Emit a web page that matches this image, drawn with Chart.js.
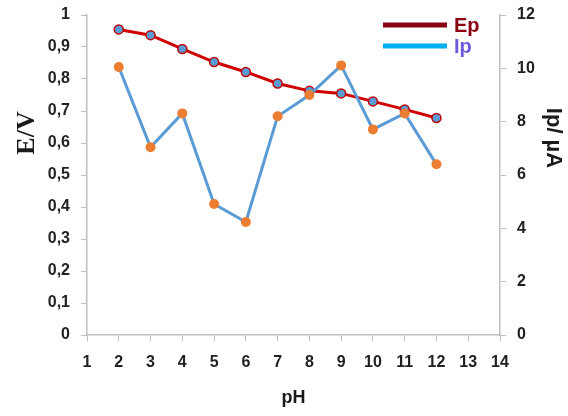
<!DOCTYPE html>
<html>
<head>
<meta charset="utf-8">
<script src="https://cdn.jsdelivr.net/npm/chart.js@4"></script>
<style>
  html, body { margin: 0; padding: 0; background: #fff; }
  #wrap { width: 568px; height: 416px; }
</style>
</head>
<body>
<div id="wrap"><canvas id="phChart" width="568" height="416"></canvas></div>
<script>
const phValues = [2, 3, 4, 5, 6, 7, 8, 9, 10, 11, 12];
const epValues = [0.955, 0.937, 0.894, 0.853, 0.822, 0.786, 0.763, 0.755, 0.730, 0.705, 0.678];
const ipValues = [10.05, 7.04, 8.31, 4.91, 4.24, 8.2, 9.0, 10.11, 7.71, 8.31, 6.4];
const legendNames = ['Ep', 'Ip'];
const axisTitles = ['E/V', 'Ip/ µA', 'pH'];

const axisGrey = '#bfbfbf';
const tickFont = { family: 'Liberation Sans', size: 16, weight: 'bold' };

// legend inside the plot (line before text) and the two y titles, which sit above centre
const extraText = {
    id: 'extraText',
    afterDraw(chart) {
        const ctx = chart.ctx;
        const items = [
            { text: legendNames[0], line: '#8b0010', color: '#8b0010', y: 25 },
            { text: legendNames[1], line: '#00b0f0', color: '#6b5bdc', y: 46 }
        ];
        ctx.save();
        items.forEach(it => {
            ctx.strokeStyle = it.line;
            ctx.lineWidth = 5;
            ctx.beginPath();
            ctx.moveTo(383, it.y);
            ctx.lineTo(447, it.y);
            ctx.stroke();
            ctx.fillStyle = it.color;
            ctx.font = 'bold 20px "Liberation Sans"';
            ctx.textBaseline = 'middle';
            ctx.fillText(it.text, 454, it.y + 1);
        });

        ctx.fillStyle = '#1a1a1a';
        ctx.textAlign = 'center';
        ctx.textBaseline = 'middle';

        ctx.save();
        ctx.translate(27, 133);
        ctx.rotate(-Math.PI / 2);
        ctx.font = 'bold 26px "Liberation Serif"';
        ctx.fillText(axisTitles[0], 0, 0);
        ctx.restore();

        ctx.save();
        ctx.translate(553, 138);
        ctx.rotate(Math.PI / 2);
        ctx.font = 'bold 22px "Liberation Sans"';
        ctx.fillText(axisTitles[1], 0, 0);
        ctx.restore();

        ctx.restore();
    }
};

new Chart(document.getElementById('phChart'), {
    type: 'line',
    data: {
        datasets: [
            {
                label: legendNames[1],
                data: phValues.map((x, i) => ({ x: x, y: ipValues[i] })),
                yAxisID: 'y1',
                borderColor: '#5b9bd5',
                borderWidth: 3,
                pointRadius: 5,
                pointBorderWidth: 0,
                pointBackgroundColor: '#ed7d31',
                pointBorderColor: '#ed7d31',
                tension: 0
            },
            {
                label: legendNames[0],
                data: phValues.map((x, i) => ({ x: x, y: epValues[i] })),
                yAxisID: 'y',
                borderColor: '#d00000',
                borderWidth: 3,
                pointRadius: 4.5,
                pointBorderWidth: 1.5,
                pointBackgroundColor: '#5b9bd5',
                pointBorderColor: '#c00000',
                tension: 0
            }
        ]
    },
    options: {
        responsive: false,
        animation: false,
        layout: { padding: { top: 15, right: 0, left: 0, bottom: 0 } },
        plugins: {
            legend: { display: false },
            tooltip: { enabled: false }
        },
        scales: {
            x: {
                type: 'linear',
                min: 1,
                max: 14,
                ticks: { stepSize: 1, color: '#222', font: tickFont, padding: 12 },
                grid: { drawOnChartArea: false, color: axisGrey, tickLength: 6 },
                border: { color: axisGrey, width: 1.5 },
                title: {
                    display: true, text: axisTitles[2], color: '#1a1a1a',
                    font: { family: 'Liberation Sans', size: 18, weight: 'bold' },
                    padding: { top: 0, bottom: 7 }
                },
                afterFit: s => { s.height = 81; s.paddingLeft = 0; s.paddingRight = 0; }
            },
            y: {
                position: 'left',
                min: 0,
                max: 1,
                ticks: {
                    stepSize: 0.1, color: '#222', font: tickFont, padding: 11,
                    callback: v => String(Math.round(v * 10) / 10).replace('.', ',')
                },
                grid: { drawOnChartArea: false, color: axisGrey, tickLength: 6 },
                border: { color: axisGrey, width: 1.5 },
                afterFit: s => { s.width = 87; s.paddingTop = 0; s.paddingBottom = 0; }
            },
            y1: {
                position: 'right',
                min: 0,
                max: 12,
                ticks: { stepSize: 2, color: '#222', font: tickFont, padding: 11 },
                grid: { drawOnChartArea: false, color: axisGrey, tickLength: 6 },
                border: { color: axisGrey, width: 1.5 },
                afterFit: s => { s.width = 68; s.paddingTop = 0; s.paddingBottom = 0; }
            }
        }
    },
    plugins: [extraText]
});
</script>
</body>
</html>
